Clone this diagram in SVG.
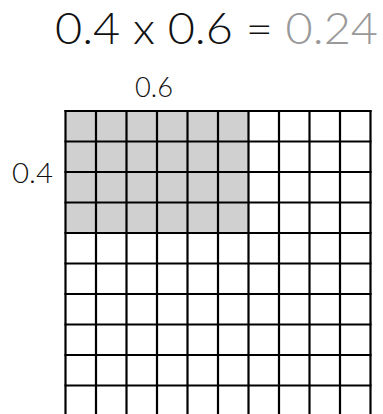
<svg xmlns="http://www.w3.org/2000/svg" width="383" height="414" viewBox="0 0 383 414">
<style>
text{font-family:Lato,"Open Sans","DejaVu Sans",sans-serif;font-weight:300;fill:#111}
.grid line{stroke:#000;stroke-width:2.2}
</style>
<rect width="383" height="414" fill="#fff"/>
<g id="equation">
<text x="55" y="43.5" font-size="43" textLength="323" lengthAdjust="spacingAndGlyphs">0.4 x 0.6 = <tspan fill="#999">0.24</tspan></text>
</g>
<g id="label-top"><text x="135" y="97" font-size="28" textLength="38" lengthAdjust="spacingAndGlyphs">0.6</text></g>
<g id="label-left"><text x="12" y="183" font-size="28" textLength="41" lengthAdjust="spacingAndGlyphs">0.4</text></g>
<g id="shade"><rect x="65.5" y="111" width="183" height="122" fill="#d0d0d0"/></g>
<g id="grid" class="grid">
<line x1="65.5" y1="110" x2="65.5" y2="416"/>
<line x1="96" y1="110" x2="96" y2="416"/>
<line x1="126.5" y1="110" x2="126.5" y2="416"/>
<line x1="157" y1="110" x2="157" y2="416"/>
<line x1="187.5" y1="110" x2="187.5" y2="416"/>
<line x1="218" y1="110" x2="218" y2="416"/>
<line x1="248.5" y1="110" x2="248.5" y2="416"/>
<line x1="279" y1="110" x2="279" y2="416"/>
<line x1="309.5" y1="110" x2="309.5" y2="416"/>
<line x1="340" y1="110" x2="340" y2="416"/>
<line x1="370.5" y1="110" x2="370.5" y2="416"/>
<line x1="64.5" y1="111" x2="371.5" y2="111"/>
<line x1="64.5" y1="141.5" x2="371.5" y2="141.5"/>
<line x1="64.5" y1="172" x2="371.5" y2="172"/>
<line x1="64.5" y1="202.5" x2="371.5" y2="202.5"/>
<line x1="64.5" y1="233" x2="371.5" y2="233"/>
<line x1="64.5" y1="263.5" x2="371.5" y2="263.5"/>
<line x1="64.5" y1="294" x2="371.5" y2="294"/>
<line x1="64.5" y1="324.5" x2="371.5" y2="324.5"/>
<line x1="64.5" y1="355" x2="371.5" y2="355"/>
<line x1="64.5" y1="385.5" x2="371.5" y2="385.5"/>
<line x1="64.5" y1="416" x2="371.5" y2="416"/>
</g>
</svg>
